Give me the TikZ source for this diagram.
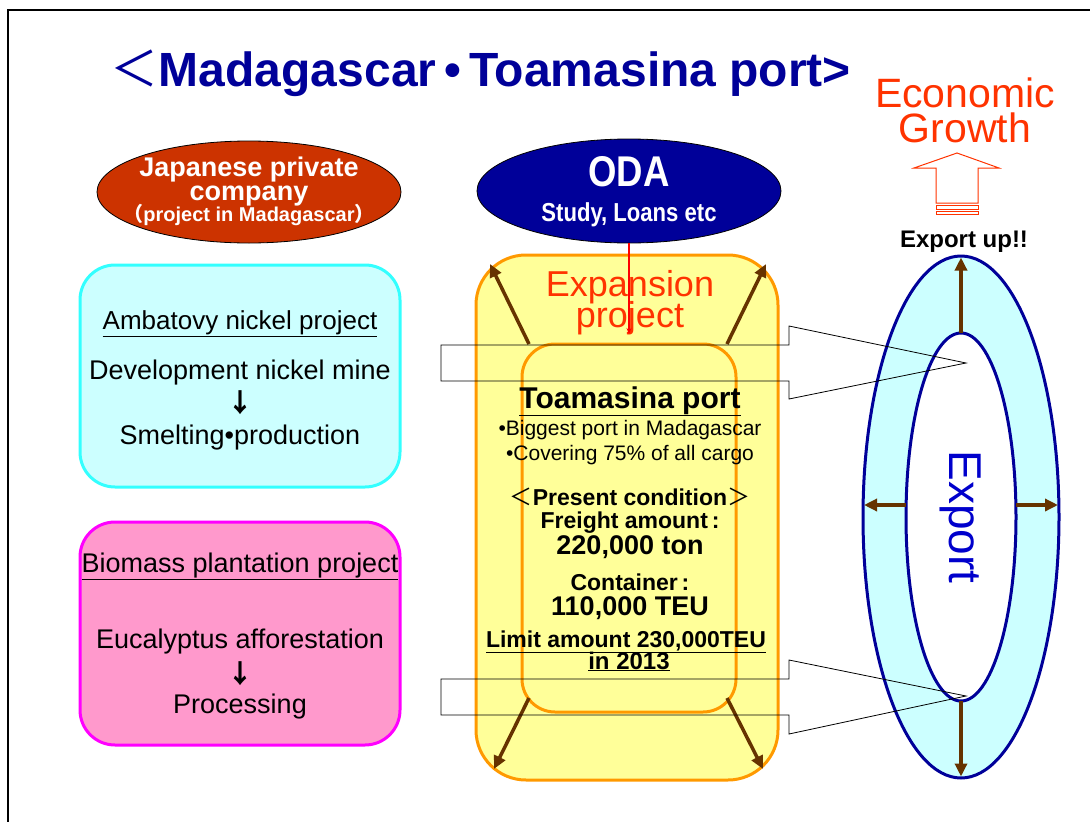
\documentclass[tikz,border=0pt]{standalone}
\usepackage{fontspec}
\setmainfont{Liberation Sans}
\newfontfamily\cjk{Noto Sans CJK JP}
\newfontfamily\cond[FakeStretch=0.85]{Liberation Sans}
\usetikzlibrary{shapes.geometric,arrows.meta}
\definecolor{navy}{HTML}{000099}
\definecolor{jred}{HTML}{CC3300}
\definecolor{expred}{HTML}{FF3300}
\definecolor{cyanfill}{HTML}{CCFFFF}
\definecolor{cyanline}{HTML}{33FFFF}
\definecolor{pinkfill}{HTML}{FF99CC}
\definecolor{pinkline}{HTML}{FF00FF}
\definecolor{yelfill}{HTML}{FFFF99}
\definecolor{orangeline}{HTML}{FF9900}
\definecolor{brownarr}{HTML}{663300}
\definecolor{expblue}{HTML}{0000CC}
\newcommand{\fsz}[1]{\fontsize{#1}{#1}\selectfont}
\tikzset{
  txt/.style={anchor=base, inner sep=0pt},
  brarrow/.style={draw=brownarr, line width=3.5pt, -{Triangle[length=13pt,width=12pt]}},
  oval/.style={ellipse, draw=black, line width=0.8pt, inner sep=0pt, minimum width=304pt},
  callout/.style={draw=black, line width=0.8pt},
}
\begin{document}
\begin{tikzpicture}[x=1pt,y=-1pt]
\useasboundingbox (0,0) rectangle (1090,822);
\draw[line width=2pt] (8,822) -- (8,10) -- (1090,10);

% title
\node[txt, text=navy, font=\fsz{48}\bfseries] (title) at (481,86) {{\cjk\mdseries ＜}Madagascar\,•\,Toamasina port>};

% Japanese private company
\node[oval, fill=jred, minimum height=102pt] (jpc) at (249,192) {};
\node[txt, text=white, font=\fsz{27}\bfseries] (jpc1) at (249,176) {Japanese private};
\node[txt, text=white, font=\fsz{27}\bfseries] (jpc2) at (249,200) {company};
\node[txt, text=white, font=\fsz{20}\bfseries] (jpc3) at (249,221) {{\cjk （}project in Madagascar{\cjk ）}};

% ODA
\node[oval, fill=navy, minimum height=104pt] (oda) at (629,191) {};
\node[txt, text=white, font=\fsz{43}\cond\bfseries] (oda1) at (629,186) {ODA};
\node[txt, text=white, font=\fsz{26}\cond\bfseries] (oda2) at (629,221) {Study, Loans etc};

% cyan box
\node[draw=cyanline, fill=cyanfill, line width=3pt, rounded corners=35pt, minimum width=320pt, minimum height=222pt, inner sep=0pt] (amb) at (240,376) {};
\node[txt, font=\fsz{26}] (amb1) at (240,329) {\underline{Ambatovy nickel project}};
\node[txt, font=\fsz{27}] (amb2) at (240,379) {Development nickel mine};
\node[inner sep=0pt, font=\fsz{26}\cjk\bfseries] (amb3) at (240,403) {↓};
\node[txt, font=\fsz{27}] (amb4) at (240,444) {Smelting•production};

% pink box
\node[draw=pinkline, fill=pinkfill, line width=3pt, rounded corners=35pt, minimum width=320pt, minimum height=223pt, inner sep=0pt] (bio) at (240,633.5) {};
\node[txt, font=\fsz{27}] (bio1) at (240,572) {\underline{Biomass plantation project}};
\node[txt, font=\fsz{27}] (bio2) at (240,648) {Eucalyptus afforestation};
\node[inner sep=0pt, font=\fsz{26}\cjk\bfseries] (bio3) at (240,674) {↓};
\node[txt, font=\fsz{27}] (bio4) at (240,713) {Processing};

% yellow port boxes
\node[draw=orangeline, fill=yelfill, line width=3pt, rounded corners=50pt, minimum width=302pt, minimum height=525pt, inner sep=0pt] (outer) at (627,517.5) {};
\node[draw=orangeline, line width=3pt, rounded corners=33pt, minimum width=214pt, minimum height=368pt, inner sep=0pt] (inner) at (629,528) {};

\node[txt, text=expred, font=\fsz{36}] (exp1) at (630,296) {Expansion};
\node[txt, text=expred, font=\fsz{36}] (exp2) at (630,327) {project};

\coordinate (redend) at (629,334);
\draw[draw=red, line width=1.5pt, -{Stealth[length=6pt,width=5pt]}] (oda.south) -- (redend);

\coordinate (tl1) at (529,344); \coordinate (tl2) at (490,264);
\coordinate (tr1) at (727,344); \coordinate (tr2) at (766,264);
\coordinate (bl1) at (529,698); \coordinate (bl2) at (494,769);
\coordinate (br1) at (727,698); \coordinate (br2) at (763,769);
\draw[brarrow] (tl1) -- (tl2);
\draw[brarrow] (tr1) -- (tr2);
\draw[brarrow] (bl1) -- (bl2);
\draw[brarrow] (br1) -- (br2);

\node[txt, font=\fsz{30}\bfseries] (port) at (630,408) {\underline{Toamasina port}};
\node[txt, font=\fsz{21}] (b1) at (630,435) {•Biggest port in Madagascar};
\node[txt, font=\fsz{21}] (b2) at (630,460) {•Covering 75\% of all cargo};
\node[txt, font=\fsz{23}\bfseries] (pc) at (630,505) {{\cjk\mdseries ＜}Present condition{\cjk\mdseries ＞}};
\node[txt, font=\fsz{23}\bfseries] (fa) at (630,528) {Freight amount\,:};
\node[txt, font=\fsz{27}\bfseries] (fa2) at (630,554) {220,000 ton};
\node[txt, font=\fsz{23}\bfseries] (ct) at (630,590) {Container\,:};
\node[txt, font=\fsz{27}\bfseries] (ct2) at (630,615) {110,000 TEU};
\node[txt, font=\fsz{23}\bfseries] (lim) at (626,647) {\underline{Limit amount 230,000TEU}};
\node[txt, font=\fsz{24}\bfseries] (lim2) at (629,669) {\underline{in 2013}};

% export ring
\node[ellipse, draw=navy, line width=3pt, fill=cyanfill, minimum width=196pt, minimum height=522pt, inner sep=0pt, outer sep=0pt] (rout) at (961,517) {};
\node[ellipse, draw=navy, line width=3pt, fill=white, minimum width=110pt, minimum height=368pt, inner sep=0pt, outer sep=0pt] (rin) at (961,517) {};
\coordinate (lw1) at (906,505); \coordinate (lw2) at (864,505);
\coordinate (re1) at (1016,505); \coordinate (re2) at (1058,505);
\draw[brarrow] (rin.north) -- ([yshift=-1.5pt]rout.north);
\draw[brarrow] (rin.south) -- ([yshift=1.5pt]rout.south);
\draw[brarrow] (lw1) -- (lw2);
\draw[brarrow] (re1) -- (re2);
\node[text=expblue, font=\fsz{46}, rotate=-90, inner sep=0pt] (export) at (961,517) {Export};

% callout arrows
\draw[callout] (441,345) -- (789,345) -- (789,326) -- (966,363) -- (789,399) -- (789,381) -- (441,381) -- cycle;
\draw[callout] (441,679) -- (789,679) -- (789,660) -- (966,696) -- (789,734) -- (789,715) -- (441,715) -- cycle;

% economic growth
\node[txt, text=expred, font=\fsz{41}] (eco1) at (965,107) {Economic};
\node[txt, text=expred, font=\fsz{41}] (eco2) at (965,142) {Growth};
\draw[draw=expred, line width=1pt, fill=white] (914,168) -- (957,153) -- (999,168) -- (978,168) -- (978,203) -- (936,203) -- (936,168) -- cycle;
\draw[draw=expred, line width=0.8pt, fill=white] (936,205) rectangle (978,209);
\draw[draw=expred, line width=0.8pt, fill=white] (936,211) rectangle (978,214);
\node[txt, font=\fsz{24}\bfseries] (expup) at (964,247) {Export up!!};
\end{tikzpicture}
\end{document}
